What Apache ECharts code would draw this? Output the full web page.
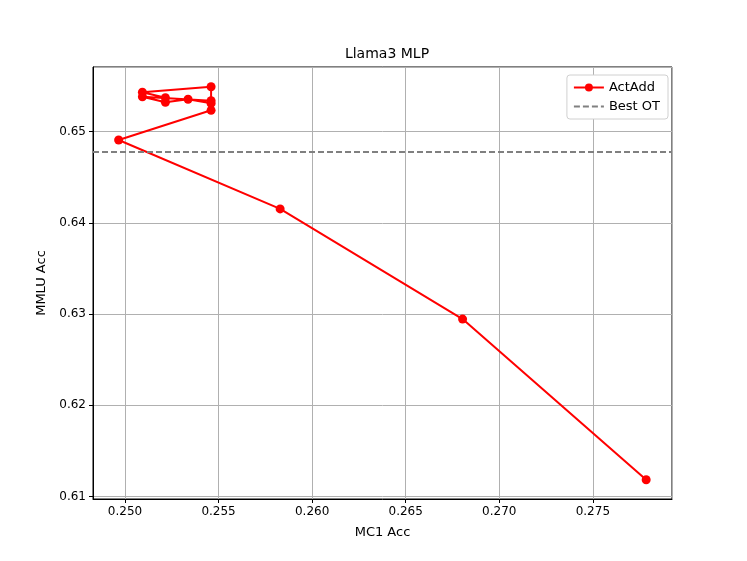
<!DOCTYPE html>
<html>
<head>
<meta charset="utf-8">
<script src="https://cdn.jsdelivr.net/npm/echarts@6/dist/echarts.min.js"></script>
<style>
  html, body { margin: 0; padding: 0; background: #fff; }
  #main { width: 747px; height: 561px; }
</style>
</head>
<body>
<div id="main"></div>
<script>
// ActAdd 曲线的点 (MC1 Acc, MMLU Acc)，按连线顺序
const mc1Acc = [0.25216, 0.25093, 0.2546, 0.2546, 0.25093, 0.25216, 0.25337, 0.2546, 0.2546, 0.24966, 0.25829, 0.26804, 0.27785];
const mmluAcc = [0.65372, 0.65432, 0.65493, 0.65340, 0.65383, 0.65322, 0.65355, 0.65310, 0.65234, 0.64909, 0.64153, 0.62945, 0.61183];
const bestOT = 0.6478;

const xRange = [0.24829, 0.27923];
const yRange = [0.60972, 0.65709];

const font = 'DejaVu Sans';

const chartDom = document.getElementById('main');
const myChart = echarts.init(chartDom);

const actAddData = mc1Acc.map((x, i) => [x, mmluAcc[i]]);

const option = {
    animation: false,
    backgroundColor: '#fff',
    title: {
        text: 'Llama3 MLP',
        left: 382,
        textAlign: 'center',
        top: 42,
        textStyle: { fontFamily: font, fontSize: 14, fontWeight: 'normal', color: '#000' }
    },
    legend: {
        right: 79,
        top: 75,
        orient: 'vertical',
        itemGap: 6,
        itemWidth: 30,
        itemHeight: 10,
        padding: [6, 8, 6, 6],
        borderColor: '#d0d0d0',
        borderWidth: 1,
        borderRadius: 3,
        backgroundColor: '#fff',
        textStyle: { fontFamily: font, fontSize: 13, color: '#000' },
        data: [
            'ActAdd',
            { name: 'Best OT', itemStyle: { opacity: 0 } }
        ]
    },
    grid: {
        left: 93,
        top: 67,
        right: 75,
        bottom: 62,
        show: true,
        borderColor: '#000',
        borderWidth: 1
    },
    xAxis: {
        type: 'value',
        min: xRange[0],
        max: xRange[1],
        splitNumber: 5,
        name: 'MC1 Acc',
        nameLocation: 'middle',
        nameGap: 27,
        nameTextStyle: { fontFamily: font, fontSize: 13, color: '#000' },
        axisLine: { show: true, onZero: false, lineStyle: { color: '#000' } },
        axisTick: { show: true, length: 4, lineStyle: { color: '#000' } },
        axisLabel: {
            showMinLabel: false,
            showMaxLabel: false,
            fontFamily: font, fontSize: 12, color: '#000', margin: 7,
            formatter: v => v.toFixed(3)
        },
        splitLine: { show: true, lineStyle: { color: '#b0b0b0', width: 1 } }
    },
    yAxis: {
        type: 'value',
        min: yRange[0],
        max: yRange[1],
        splitNumber: 5,
        name: 'MMLU Acc',
        nameLocation: 'middle',
        nameGap: 44,
        nameTextStyle: { fontFamily: font, fontSize: 13, color: '#000' },
        axisLine: { show: true, onZero: false, lineStyle: { color: '#000' } },
        axisTick: { show: true, length: 4, lineStyle: { color: '#000' } },
        axisLabel: {
            showMinLabel: false,
            showMaxLabel: false,
            fontFamily: font, fontSize: 12, color: '#000', margin: 7,
            formatter: v => v.toFixed(2)
        },
        splitLine: { show: true, lineStyle: { color: '#b0b0b0', width: 1 } }
    },
    series: [
        {
            name: 'ActAdd',
            type: 'line',
            data: actAddData,
            symbol: 'circle',
            symbolSize: 9,
            showAllSymbol: true,
            itemStyle: { color: '#ff0000' },
            lineStyle: { color: '#ff0000', width: 2 },
            z: 3
        },
        {
            name: 'Best OT',
            type: 'line',
            data: [],
            symbol: 'none',
            itemStyle: { color: '#808080' },
            lineStyle: { color: '#808080', width: 2, type: [6, 3] },
            markLine: {
                silent: true,
                symbol: 'none',
                precision: 5,
                label: { show: false },
                lineStyle: { color: '#808080', width: 2, type: [6, 3] },
                data: [{ yAxis: bestOT }]
            },
            z: 2
        }
    ]
};

option && myChart.setOption(option);
</script>
</body>
</html>
